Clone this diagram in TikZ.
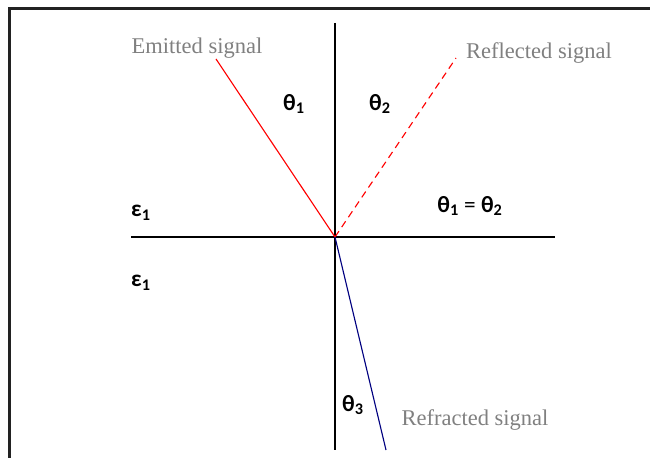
\documentclass[tikz,border=0pt]{standalone}
\usepackage{fontspec}
\setmainfont{Liberation Serif}
\newfontfamily\calfont{Carlito}
\usepackage{tikz}
\usetikzlibrary{positioning}
\usepackage{xcolor}
\definecolor{framegray}{HTML}{222222}
\definecolor{sigblue}{HTML}{000080}
\newcommand{\sym}[2]{\textbf{#1\textsubscript{#2}}}

\begin{document}
\begin{tikzpicture}[x=0.025cm, y=-0.025cm,
    sig/.style={font=\fontsize{16}{18}\selectfont, text=gray},
    ang/.style={font=\calfont\fontsize{16.5}{18}\selectfont, inner sep=0pt}]
      \useasboundingbox (0,0) rectangle (650,458);
      \draw[framegray, line width=1.8pt] (9.5,458) -- (9.5,8.5) -- (650,8.5);
      % axes
      \coordinate (o) at (335,237);
      \coordinate (axtop) at (335,23);
      \coordinate (axbot) at (335,450);
      \coordinate (axleft) at (131,237);
      \coordinate (axright) at (555,237);
      \draw[line width=1pt] (axtop) -- (axbot);
      \draw[line width=1pt] (axleft) -- (axright);
      % signals
      \coordinate (emit) at (216,59);
      \coordinate (refl) at (456,58);
      \coordinate (refr) at (386,450);
      \draw[red, line width=0.8pt] (emit) -- (o);
      \draw[red, line width=0.8pt, dash pattern=on 5pt off 3.5pt] (o) -- (refl);
      \draw[sigblue, line width=0.8pt] (o) -- (refr);
      % labels
      \node[sig] (emitlbl) at (197,48) {Emitted signal};
      \node[sig] (refllbl) at (539,53) {Reflected signal};
      \node[sig] (refrlbl) at (475,420) {Refracted signal};
      \node[ang] (th1) at (294,104) {\sym{θ}{1}};
      \node[ang] (th2) at (380,104) {\sym{θ}{2}};
      \node[ang] (th3) at (353,405) {\sym{θ}{3}};
      \node[ang] (eps1) at (141,213) {\sym{ε}{1}};
      \node[ang] (eps2) at (141,283) {\sym{ε}{1}};
      \node[ang] (eq) at (470,206) {\sym{θ}{1} = \sym{θ}{2}};
    \end{tikzpicture}
\end{document}
